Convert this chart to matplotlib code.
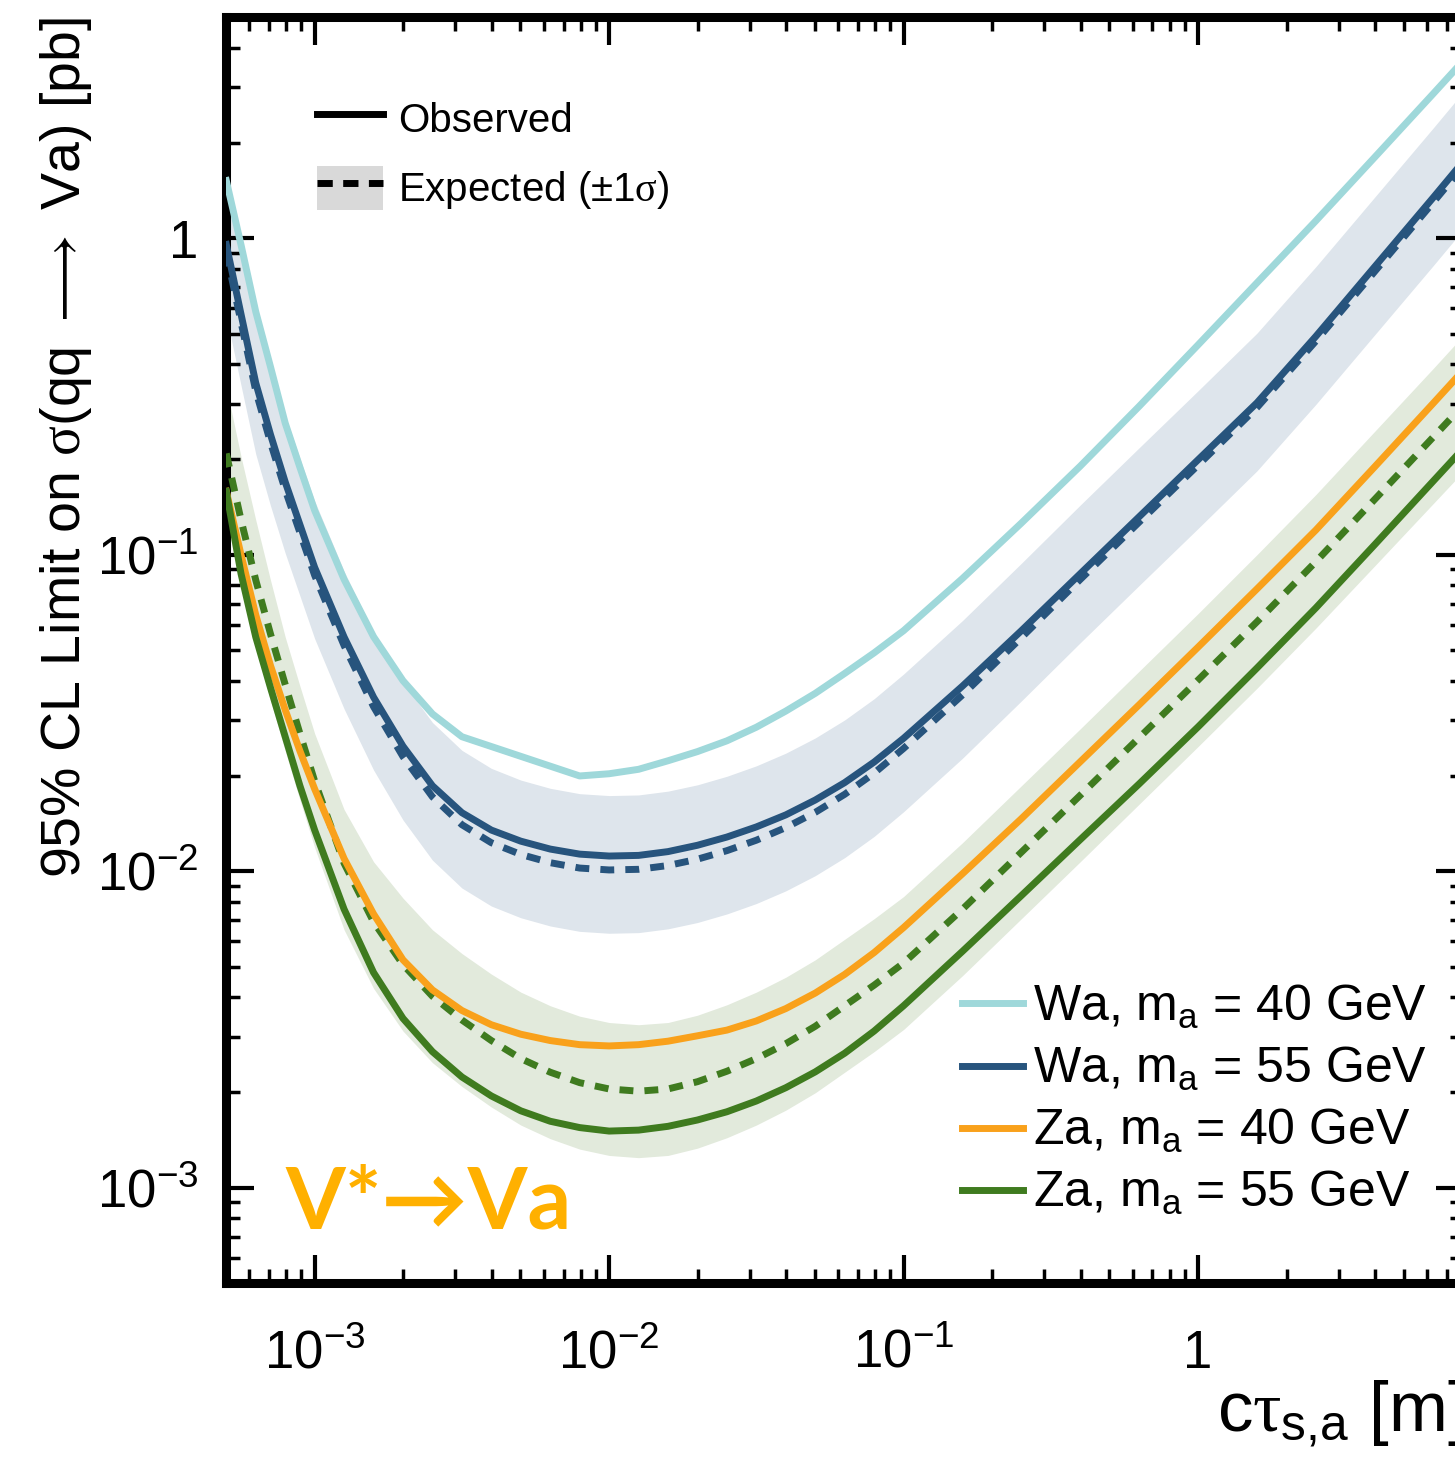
import numpy as np
import matplotlib
matplotlib.use('Agg')
import matplotlib.pyplot as plt
from matplotlib.lines import Line2D
from matplotlib.patches import Patch
from matplotlib.ticker import FixedLocator, LogLocator, FuncFormatter, NullFormatter

plt.rcParams['font.family'] = ['Liberation Sans', 'DejaVu Sans']
plt.rcParams['mathtext.fontset'] = 'custom'
plt.rcParams['mathtext.rm'] = 'Liberation Sans'
plt.rcParams['mathtext.it'] = 'Liberation Serif'   # greek letters come out upright serif
plt.rcParams['mathtext.bf'] = 'Liberation Sans:bold'
plt.rcParams['mathtext.fallback'] = 'stix'

# ---- all values as log10: c*tau in m, cross-section limit in pb ----
ctau_log = [-3.30, -3.25, -3.20, -3.15, -3.10, -3.05, -3.00, -2.90, -2.80, -2.70,
            -2.60, -2.50, -2.40, -2.30, -2.20, -2.10, -2.00, -1.90, -1.80, -1.70,
            -1.60, -1.50, -1.40, -1.30, -1.20, -1.10, -1.00, -0.80, -0.60, -0.40,
            -0.20, 0.00, 0.20, 0.40, 0.60, 0.80, 0.903]

wa40_obs = [0.182, -0.021, -0.232, -0.406, -0.584, -0.724, -0.860, -1.078, -1.259, -1.398,
            -1.503, -1.575, -1.606, -1.637, -1.668, -1.699, -1.692, -1.678, -1.651, -1.622,
            -1.588, -1.545, -1.494, -1.438, -1.375, -1.310, -1.240, -1.075, -0.900, -0.720,
            -0.531, -0.337, -0.141, 0.055, 0.256, 0.458, 0.563]

wa55_obs = [-0.020, -0.240, -0.457, -0.620, -0.770, -0.905, -1.040, -1.260, -1.450, -1.605,
            -1.730, -1.815, -1.870, -1.905, -1.930, -1.946, -1.952, -1.950, -1.938, -1.918,
            -1.892, -1.860, -1.822, -1.775, -1.720, -1.655, -1.580, -1.415, -1.240, -1.060,
            -0.880, -0.700, -0.520, -0.310, -0.090, 0.130, 0.245]
wa55_exp = [-0.045, -0.265, -0.482, -0.645, -0.795, -0.930, -1.065, -1.287, -1.480, -1.638,
            -1.765, -1.853, -1.910, -1.947, -1.973, -1.990, -1.996, -1.994, -1.982, -1.962,
            -1.935, -1.902, -1.862, -1.814, -1.757, -1.690, -1.612, -1.443, -1.262, -1.078,
            -0.897, -0.717, -0.535, -0.325, -0.105, 0.115, 0.230]
wa55_hi = [0.190, -0.030, -0.247, -0.410, -0.560, -0.695, -0.830, -1.052, -1.245, -1.403,
           -1.530, -1.618, -1.675, -1.712, -1.738, -1.755, -1.761, -1.759, -1.747, -1.727,
           -1.700, -1.667, -1.627, -1.579, -1.522, -1.455, -1.377, -1.208, -1.027, -0.843,
           -0.662, -0.482, -0.300, -0.090, 0.130, 0.350, 0.465]
wa55_lo = [-0.245, -0.465, -0.682, -0.845, -0.995, -1.130, -1.265, -1.487, -1.680, -1.838,
           -1.965, -2.053, -2.110, -2.147, -2.173, -2.190, -2.196, -2.194, -2.182, -2.162,
           -2.135, -2.102, -2.062, -2.014, -1.957, -1.890, -1.812, -1.643, -1.462, -1.278,
           -1.097, -0.917, -0.735, -0.525, -0.305, -0.085, 0.030]

za40_obs = [-0.800, -1.000, -1.190, -1.350, -1.490, -1.620, -1.740, -1.960, -2.135, -2.280,
            -2.375, -2.440, -2.485, -2.515, -2.535, -2.548, -2.552, -2.548, -2.537, -2.520,
            -2.502, -2.473, -2.434, -2.385, -2.326, -2.257, -2.178, -2.008, -1.834, -1.654,
            -1.474, -1.292, -1.108, -0.922, -0.722, -0.520, -0.415]

za55_obs = [-0.800, -1.060, -1.260, -1.420, -1.575, -1.730, -1.870, -2.120, -2.320, -2.465,
            -2.570, -2.650, -2.710, -2.757, -2.790, -2.810, -2.821, -2.818, -2.806, -2.786,
            -2.760, -2.726, -2.684, -2.634, -2.575, -2.505, -2.425, -2.253, -2.077, -1.900,
            -1.724, -1.544, -1.358, -1.168, -0.968, -0.766, -0.662]
za55_exp = [-0.680, -0.890, -1.080, -1.250, -1.410, -1.565, -1.715, -1.975, -2.160, -2.295,
            -2.395, -2.470, -2.535, -2.592, -2.635, -2.668, -2.688, -2.695, -2.688, -2.665,
            -2.632, -2.592, -2.545, -2.490, -2.425, -2.360, -2.290, -2.120, -1.940, -1.760,
            -1.578, -1.396, -1.212, -1.022, -0.825, -0.627, -0.525]
za55_hi = [-0.470, -0.690, -0.890, -1.080, -1.260, -1.415, -1.565, -1.805, -1.970, -2.085,
           -2.185, -2.260, -2.325, -2.382, -2.425, -2.458, -2.478, -2.485, -2.478, -2.455,
           -2.422, -2.382, -2.335, -2.280, -2.215, -2.150, -2.080, -1.910, -1.730, -1.550,
           -1.368, -1.186, -1.000, -0.810, -0.610, -0.410, -0.305]
za55_lo = [-0.890, -1.100, -1.290, -1.460, -1.620, -1.775, -1.925, -2.185, -2.370, -2.505,
           -2.605, -2.680, -2.745, -2.802, -2.845, -2.878, -2.898, -2.905, -2.898, -2.875,
           -2.842, -2.802, -2.755, -2.700, -2.635, -2.570, -2.500, -2.330, -2.150, -1.970,
           -1.788, -1.606, -1.422, -1.232, -1.035, -0.837, -0.735]

decades = [1e-3, 1e-2, 1e-1, 1.0]
series_labels = [r'Wa, $\mathregular{m_a}$ = 40 GeV', r'Wa, $\mathregular{m_a}$ = 55 GeV',
                 r'Za, $\mathregular{m_a}$ = 40 GeV', r'Za, $\mathregular{m_a}$ = 55 GeV']

c_wa40 = '#9fd8da'
c_wa55 = '#27547d'
c_za40 = '#f9a11b'
c_za55 = '#3f7b1f'
band_wa = '#dee5ec'
band_za = '#e2eadc'

lw = 5
dash = (0, (2.0, 1.6))

x = 10 ** np.array(ctau_log)


def pb(v):
    return 10 ** np.array(v)


fig = plt.figure(figsize=(14.55, 14.58), dpi=100)
ax = fig.add_axes([226 / 1455, 175 / 1458, 1238 / 1455, 1266 / 1458])

ax.fill_between(x, pb(wa55_lo), pb(wa55_hi), color=band_wa, lw=0, zorder=1)
ax.fill_between(x, pb(za55_lo), pb(za55_hi), color=band_za, lw=0, zorder=1)

ax.plot(x, pb(wa40_obs), color=c_wa40, lw=lw, zorder=3)
ax.plot(x, pb(wa55_exp), color=c_wa55, lw=lw, ls=dash, zorder=3)
ax.plot(x, pb(wa55_obs), color=c_wa55, lw=lw, zorder=4)
ax.plot(x, pb(za55_exp), color=c_za55, lw=lw, ls=dash, zorder=3)
ax.plot(x, pb(za40_obs), color=c_za40, lw=lw, zorder=4)
ax.plot(x, pb(za55_obs), color=c_za55, lw=lw, zorder=4)

ax.set_xscale('log')
ax.set_yscale('log')
ax.set_xlim(5e-4, 8)
ax.set_ylim(5e-4, 5)


def dec_fmt(v, pos):
    e = int(round(np.log10(v)))
    if e == 0:
        return '1'
    return r'$\mathregular{10^{%d}}$' % e


ax.xaxis.set_major_locator(FixedLocator(decades))
ax.yaxis.set_major_locator(FixedLocator(decades))
ax.xaxis.set_major_formatter(FuncFormatter(dec_fmt))
ax.yaxis.set_major_formatter(FuncFormatter(dec_fmt))
ax.xaxis.set_minor_locator(LogLocator(base=10, subs=np.arange(2, 10), numticks=20))
ax.yaxis.set_minor_locator(LogLocator(base=10, subs=np.arange(2, 10), numticks=20))
ax.xaxis.set_minor_formatter(NullFormatter())
ax.yaxis.set_minor_formatter(NullFormatter())

ax.tick_params(which='both', direction='in', top=True, right=True)
ax.tick_params(which='major', length=20, width=3, labelsize=38, pad=20)
ax.tick_params(axis='x', which='major', pad=33)
ax.tick_params(which='minor', length=10, width=2.5)
for s in ax.spines.values():
    s.set_linewidth(6.5)

ax.set_ylabel(r'95% CL Limit on $\sigma$(qq $\longrightarrow$ Va) [pb]', fontsize=40, loc='top')
ax.yaxis.set_label_coords(-0.107, 1.0)
ax.set_xlabel(r'c$\tau_{\mathregular{s{,}a}}$ [m]', fontsize=51, loc='right')
ax.xaxis.set_label_coords(1.0, -0.075)

# observed / expected key
h_obs = Line2D([], [], color='black', lw=lw)
h_exp = (Patch(facecolor='#d9d9d9', edgecolor='none'),
         Line2D([], [], color='black', lw=lw, ls=(0, (2.2, 1.5))))
leg1 = ax.legend([h_obs, h_exp], ['Observed', r'Expected ($\pm$1$\sigma$)'],
                 loc='upper left', bbox_to_anchor=(0.0735, 0.937), frameon=False,
                 fontsize=29, handlelength=1.65, handleheight=1.3, handletextpad=0.37,
                 labelspacing=0.62, borderpad=0, borderaxespad=0)
ax.add_artist(leg1)

# signal key
h_series = [Line2D([], [], color=c, lw=lw) for c in (c_wa40, c_wa55, c_za40, c_za55)]
ax.legend(h_series, series_labels, loc='upper left', bbox_to_anchor=(0.5945, 0.237),
          frameon=False, fontsize=36, handlelength=1.22, handletextpad=0.2,
          labelspacing=0.28, borderpad=0, borderaxespad=0)

ax.text(0.0477, 0.0434, 'V*→Va', transform=ax.transAxes, color='#ffb000',
        fontsize=62, fontweight='bold', family=['Lato', 'DejaVu Sans'], va='baseline')

fig.savefig('out.png', dpi=100)
